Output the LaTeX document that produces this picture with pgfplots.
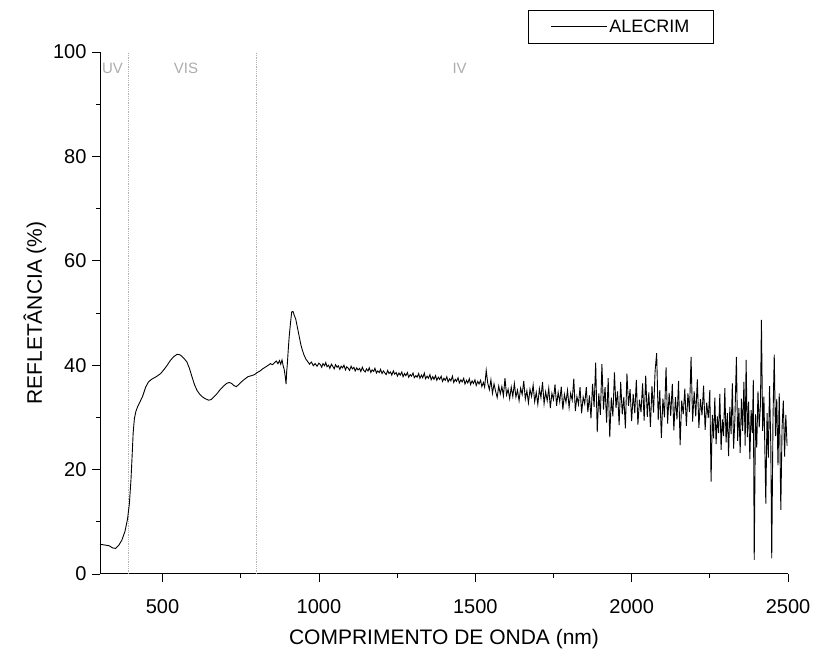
\documentclass[border=0pt]{standalone}
\usepackage{pgfplots}
\pgfplotsset{compat=1.18}
\usepackage{fontspec}
\setmainfont{Liberation Sans}
\begin{document}
\begin{tikzpicture}
\path[use as bounding box] (0,0) rectangle (816pt,655pt);
\begin{axis}[
  at={(100pt,81pt)}, anchor=south west,
  scale only axis, width=688pt, height=522pt,
  xmin=300, xmax=2500, ymin=0, ymax=100,
  axis x line*=bottom, axis y line*=left,
  axis line style={-, line width=1pt},
  tick align=outside,
  major tick length=8pt, minor tick length=4pt,
  every tick/.style={black, line width=0.8pt},
  xtick={500,1000,1500,2000,2500},
  ytick={0,20,40,60,80,100},
  minor x tick num=1, minor y tick num=1,
  /pgf/number format/assume math mode=true,
  /pgf/number format/1000 sep={},
  tick label style={font=\fontsize{20}{24}\selectfont},
  xticklabel style={yshift=-14pt},
  yticklabel style={xshift=-2pt},
  xlabel={COMPRIMENTO DE ONDA (nm)},
  ylabel={REFLETÂNCIA (\%)},
  label style={font=\fontsize{21}{25}\selectfont},
  xlabel style={yshift=-9pt},
  ylabel style={yshift=0pt},
  legend style={at={(0.757,1.048)}, anchor=center, draw=black, line width=0.8pt,
    font=\fontsize{18}{22}\selectfont, inner xsep=22pt, inner ysep=7.5pt},
  legend image code/.code={\draw[black, line width=0.9pt] (0pt,0pt) -- (56pt,0pt);},
  clip=false,
]
\addplot[gray!60, densely dotted, line width=0.8pt, forget plot] coordinates {(390,0) (390,100)};
\addplot[gray!60, densely dotted, line width=0.8pt, forget plot] coordinates {(800,0) (800,100)};
\node[text=gray!65, font=\fontsize{15}{18}\selectfont] at (axis cs:340,96.8) {UV};
\node[text=gray!65, font=\fontsize{15}{18}\selectfont] at (axis cs:575,96.8) {VIS};
\node[text=gray!65, font=\fontsize{15}{18}\selectfont] at (axis cs:1450,96.8) {IV};
\addplot[black, line width=0.9pt] coordinates {
(300,5.7) (310,5.6) (320,5.5) (330,5.4) (340,5.0) (350,4.9) (360,5.5) (370,6.5) (380,8.2) (388,10.5)
(394,13.5) (399,18) (403,23) (406,27) (410,29.8) (415,31.2) (420,32.0) (428,33.0) (436,34.0) (446,35.8)
(455,36.8) (465,37.3) (480,37.8) (494,38.4) (505,39.2) (515,40.0) (525,40.9) (535,41.6) (547,42.1) (555,42.0)
(562,41.7) (570,41.2) (578,40.6) (586,39.4) (594,37.8) (602,36.3) (610,35.2) (618,34.5) (626,34.0) (636,33.6)
(647,33.3) (655,33.4) (662,33.8) (672,34.4) (684,35.3) (695,36.0) (705,36.5) (713,36.7) (721,36.5) (728,36.1)
(736,35.9) (744,36.3) (752,36.8) (762,37.3) (773,37.8) (785,38.0) (794,38.2) (803,38.6) (812,38.9) (820,39.3)
(828,39.6) (836,39.9) (845,40.3) (852,40.1) (858,40.5) (864,40.8) (869,40.3) (874,40.9) (878,40.2) (882,41.0)
(886,39.8) (889,39.2) (892,38.0) (895,36.4) (897,38.8) (899,40.2) (902,43.0) (905,45.5) (909,48.0) (913,50.2)
(917,50.3) (921,49.6) (926,48.8) (931,47.3) (937,45.5) (942,44.0) (947,42.9) (952,42.0) (958,41.2) (964,40.7)
(970,40.2) (976,40.6) (982,39.9) (988,40.3) (994,39.8) (1000,40.4)
(1005,40.1) (1009,39.6) (1013,40.3) (1018,39.9) (1022,40.5) (1026,39.7) (1031,40.0) (1035,39.4) (1040,40.2) (1044,39.8)
(1049,39.3) (1053,40.1) (1058,39.6) (1062,39.9) (1067,39.2) (1071,39.8) (1076,39.5) (1080,40.0) (1085,39.1) (1089,39.7)
(1094,39.4) (1098,39.0) (1103,39.8) (1107,39.3) (1112,39.6) (1116,38.9) (1121,39.5) (1125,39.1) (1130,39.4) (1134,38.8)
(1139,39.6) (1143,39.0) (1148,38.7) (1152,39.3) (1157,38.9) (1161,39.5) (1166,38.6) (1170,39.1) (1175,38.8) (1179,39.4)
(1184,38.5) (1188,38.9) (1193,38.6) (1197,39.2) (1202,38.4) (1206,38.9) (1211,38.5) (1215,38.2) (1220,39.0) (1224,38.4)
(1229,38.7) (1233,38.1) (1238,38.9) (1242,38.3) (1247,38.6) (1251,37.9) (1256,38.5) (1260,38.1) (1265,38.7) (1269,37.8)
(1274,38.4) (1278,38.0) (1283,38.6) (1287,37.7) (1292,38.2) (1296,37.9) (1301,38.5) (1305,37.6) (1310,38.0) (1314,37.7)
(1319,38.4) (1323,37.5) (1328,38.1) (1332,37.6) (1337,38.5) (1341,37.4) (1346,37.9) (1350,37.5) (1355,38.2) (1359,37.2)
(1364,37.8) (1368,37.3) (1373,38.0) (1377,37.1) (1382,37.7) (1386,37.3) (1391,37.9) (1395,36.9) (1400,37.5) (1404,37.1)
(1409,37.8) (1413,36.8) (1418,37.4) (1422,37.0) (1427,37.9) (1431,36.7) (1436,37.3) (1440,36.9) (1445,37.6) (1449,36.6)
(1454,37.2) (1458,36.8) (1463,37.5) (1467,36.4) (1472,37.1) (1476,36.6) (1481,37.4) (1485,36.3) (1490,37.0) (1494,36.5)
(1499,37.2) (1503,36.1) (1508,36.9) (1512,36.4) (1517,37.1) (1521,35.9) (1526,36.7) (1530,35.8) (1535,39.0) (1540,36.5)
(1545,35.3) (1550,37.2)
(1555,34.6) (1560,36.4) (1565,35.0) (1570,33.8) (1575,36.0) (1580,34.5) (1585,35.9) (1590,34.1) (1595,37.5) (1600,34.3)
(1605,35.4) (1610,33.6) (1615,35.8) (1620,34.0) (1625,36.5) (1630,33.9) (1635,35.2) (1640,33.2) (1645,35.6) (1650,34.4)
(1655,37.0) (1660,33.5) (1665,35.1) (1670,32.8) (1675,35.4) (1680,34.0) (1685,36.2) (1690,33.0) (1695,34.8) (1700,32.5)
(1705,35.5) (1710,33.8) (1715,36.8) (1720,32.6) (1725,34.9) (1730,33.2) (1735,35.6) (1740,31.8) (1745,34.6) (1750,33.4)
(1755,36.3) (1760,32.2) (1765,34.8) (1770,33.0) (1775,35.9) (1780,31.5) (1785,34.4) (1790,32.9) (1795,35.2) (1800,31.9)
(1805,34.6) (1810,33.3) (1815,37.4) (1820,31.2) (1825,34.0) (1830,32.5) (1835,35.8) (1840,30.8) (1845,33.9) (1850,32.6)
(1855,35.8) (1860,31.0) (1865,34.2) (1870,29.8) (1875,36.4) (1880,32.0) (1885,40.5) (1890,27.2) (1895,34.6) (1900,30.5)
(1905,40.2) (1910,31.5) (1915,35.8) (1920,29.0) (1925,37.5) (1930,26.2) (1935,33.8) (1940,30.2) (1945,38.6) (1950,31.8)
(1955,35.0) (1960,28.5) (1965,36.8) (1970,30.6) (1975,33.9) (1980,27.9) (1985,38.4) (1990,32.2) (1995,35.4) (2000,29.3)
(2005,34.5) (2010,30.8) (2015,37.2) (2020,28.6) (2025,33.4) (2030,31.0) (2035,36.5) (2040,29.4) (2045,38.0) (2050,30.1)
(2055,34.8) (2060,28.2) (2065,36.0) (2070,30.9) (2075,38.9) (2080,42.3) (2085,29.5) (2090,35.2) (2095,26.1) (2100,33.6)
(2105,30.0) (2110,39.6) (2115,28.8) (2120,34.7) (2125,30.3) (2130,36.4) (2135,27.5) (2140,33.9) (2145,29.6) (2150,37.0)
(2155,24.7) (2160,33.2) (2165,30.6) (2170,35.5) (2175,28.4) (2180,34.6) (2185,31.0) (2190,41.6) (2195,29.2) (2200,35.0)
(2205,30.2) (2210,37.3) (2215,28.0) (2220,33.5) (2225,30.4) (2230,36.1) (2235,27.6) (2240,32.8) (2245,29.9) (2250,35.2)
(2254,17.7) (2258,30.5) (2262,26.0) (2266,33.8) (2270,24.9) (2274,30.2) (2278,27.0) (2282,34.5) (2286,23.8) (2290,29.6)
(2294,26.4) (2298,35.6) (2302,25.2) (2306,30.8) (2310,22.6) (2314,32.0) (2318,26.8) (2322,36.5) (2326,24.0) (2330,29.4)
(2335,41.6) (2339,25.5) (2343,31.8) (2347,23.2) (2351,33.6) (2355,27.4) (2359,36.8) (2363,24.6) (2366,41.0) (2370,26.2)
(2374,33.0) (2378,22.0) (2382,31.4) (2386,27.0) (2389,37.2) (2392,2.7) (2396,30.6) (2400,24.2) (2404,35.0) (2408,28.1)
(2412,32.6) (2415,48.7) (2419,27.4) (2423,34.0) (2427,20.5) (2429,13.5) (2433,30.8) (2437,22.3) (2441,36.0) (2445,24.5)
(2448,3.0) (2452,29.8) (2456,42.0) (2460,26.4) (2464,33.5) (2468,20.8) (2472,34.6) (2477,12.3) (2481,28.0) (2485,33.2)
(2489,22.5) (2493,30.5) (2497,24.6)
};
\addlegendentry{ALECRIM}
\end{axis}
\end{tikzpicture}
\end{document}
